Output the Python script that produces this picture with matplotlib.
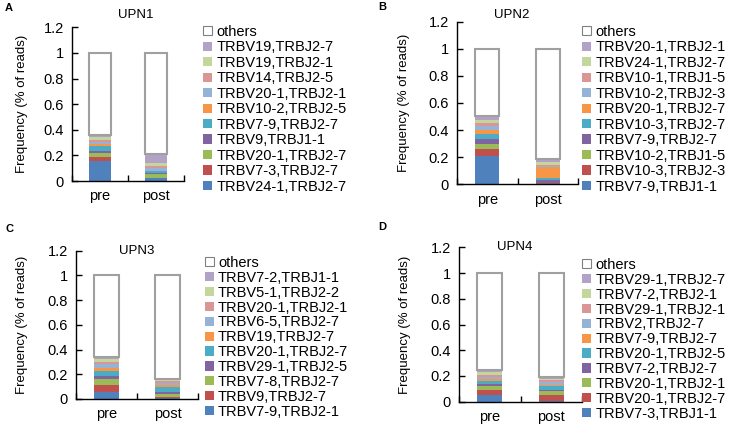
import numpy as np
import matplotlib.pyplot as plt
from matplotlib.patches import Patch

plt.rcParams['font.family'] = ['Liberation Sans', 'DejaVu Sans']

# Data: clonotype frequencies, listed from the bottom of the stack upwards
samples = ['pre', 'post']
seg_colors = ['#4F81BD', '#C0504D', '#9BBB59', '#8064A2', '#4BACC6',
              '#F79646', '#95B3D7', '#D99694', '#C3D69B', '#B3A2C7']

upn1_labels = ['TRBV24-1,TRBJ2-7', 'TRBV7-3,TRBJ2-7', 'TRBV20-1,TRBJ2-7', 'TRBV9,TRBJ1-1',
               'TRBV7-9,TRBJ2-7', 'TRBV10-2,TRBJ2-5', 'TRBV20-1,TRBJ2-1', 'TRBV14,TRBJ2-5',
               'TRBV19,TRBJ2-1', 'TRBV19,TRBJ2-7']
upn1_pre = [0.16, 0.025, 0.03, 0.02, 0.035, 0.015, 0.02, 0.015, 0.02, 0.02]
upn1_post = [0.02, 0.005, 0.03, 0.01, 0.01, 0.005, 0.02, 0.02, 0.02, 0.07]

upn2_labels = ['TRBV7-9,TRBJ1-1', 'TRBV10-3,TRBJ2-3', 'TRBV10-2,TRBJ1-5', 'TRBV7-9,TRBJ2-7',
               'TRBV10-3,TRBJ2-7', 'TRBV20-1,TRBJ2-7', 'TRBV10-2,TRBJ2-3', 'TRBV10-1,TRBJ1-5',
               'TRBV24-1,TRBJ2-7', 'TRBV20-1,TRBJ2-1']
upn2_pre = [0.21, 0.05, 0.034, 0.044, 0.034, 0.028, 0.03, 0.02, 0.028, 0.026]
upn2_post = [0.01, 0.005, 0.005, 0.015, 0.01, 0.08, 0.01, 0.01, 0.02, 0.02]

upn3_labels = ['TRBV7-9,TRBJ2-1', 'TRBV9,TRBJ2-7', 'TRBV7-8,TRBJ2-7', 'TRBV29-1,TRBJ2-5',
               'TRBV20-1,TRBJ2-7', 'TRBV19,TRBJ2-7', 'TRBV6-5,TRBJ2-7', 'TRBV20-1,TRBJ2-1',
               'TRBV5-1,TRBJ2-2', 'TRBV7-2,TRBJ1-1']
upn3_pre = [0.06, 0.05, 0.05, 0.03, 0.04, 0.02, 0.03, 0.02, 0.02, 0.02]
upn3_post = [0.01, 0.01, 0.02, 0.015, 0.04, 0.02, 0.015, 0.015, 0.005, 0.01]

upn4_labels = ['TRBV7-3,TRBJ1-1', 'TRBV20-1,TRBJ2-7', 'TRBV20-1,TRBJ2-1', 'TRBV7-2,TRBJ2-7',
               'TRBV20-1,TRBJ2-5', 'TRBV7-9,TRBJ2-7', 'TRBV2,TRBJ2-7', 'TRBV29-1,TRBJ2-1',
               'TRBV7-2,TRBJ2-1', 'TRBV29-1,TRBJ2-7']
upn4_pre = [0.05, 0.04, 0.03, 0.02, 0.02, 0.015, 0.015, 0.02, 0.02, 0.02]
upn4_post = [0.005, 0.045, 0.03, 0.01, 0.03, 0.01, 0.02, 0.015, 0.01, 0.015]

panels = [
    ('A', 'UPN1', upn1_labels, upn1_pre, upn1_post),
    ('B', 'UPN2', upn2_labels, upn2_pre, upn2_post),
    ('C', 'UPN3', upn3_labels, upn3_pre, upn3_post),
    ('D', 'UPN4', upn4_labels, upn4_pre, upn4_post),
]

W, H = 737, 428
fig = plt.figure(figsize=(W / 100, H / 100), dpi=100)

# layout in pixels: axes (left, right, top, bottom), legend (left, top), title (x frac, y frac), letter (x, y)
layout = [
    dict(ax=(72, 184, 27.3, 181), leg=(203, 25), spacing=0.1, title=(0.57, 1.08), letter=(5, 8)),
    dict(ax=(457, 578, 21.7, 184.3), leg=(582, 25), spacing=0.1, title=(0.45, 1.04), letter=(378, 7)),
    dict(ax=(76, 198, 250.7, 399), leg=(205, 256), spacing=0.06, title=(0.5, 1.0), letter=(5, 229)),
    dict(ax=(459, 582, 247.3, 401.7), leg=(582, 258), spacing=0.06, title=(0.45, 1.0), letter=(378, 227)),
]

for (letter, title, labels, pre, post), lay in zip(panels, layout):
    l, r, t, b = lay['ax']
    ax = fig.add_axes([l / W, 1 - b / H, (r - l) / W, (b - t) / H])
    x = np.arange(len(samples))
    vals = np.array([pre, post]).T  # shape (10, 2)
    bottom = np.zeros(len(samples))
    handles = []
    for v, c, lab in zip(vals, seg_colors, labels):
        ax.bar(x, v, 0.4, bottom=bottom, color=c, linewidth=0)
        bottom += v
        handles.append(Patch(facecolor=c, edgecolor='none', label=lab))
    others = 1 - bottom
    ax.bar(x, others, 0.4, bottom=bottom, color='white', edgecolor='#A0A0A0', linewidth=1.5)
    handles.append(Patch(facecolor='white', edgecolor='#808080', linewidth=0.8, label='others'))

    ax.set_xlim(-0.5, 1.5)
    ax.set_ylim(0, 1.2)
    ax.set_yticks(np.arange(0, 1.21, 0.2))
    ax.set_yticklabels(['0', '0.2', '0.4', '0.6', '0.8', '1', '1.2'], fontsize=10.5)
    ax.set_xticks(x)
    ax.set_xticklabels(samples, fontsize=10.5)
    ax.tick_params(axis='x', length=0, pad=6)
    ax.set_xticks([-0.5, 0.5, 1.5], minor=True)
    ax.tick_params(axis='x', which='minor', direction='in', length=4, width=1)
    ax.tick_params(axis='y', direction='in', length=4, width=1, pad=6)
    for s in ['top', 'right']:
        ax.spines[s].set_visible(False)
    ax.spines['left'].set_linewidth(1)
    ax.spines['bottom'].set_linewidth(1)
    ax.set_ylabel('Frequency (% of reads)', fontsize=9.5)
    ax.yaxis.set_label_coords(-0.39, 0.5)

    tx, ty = lay['title']
    ax.text(tx, ty, title, transform=ax.transAxes, ha='center', va='center', fontsize=9.5)
    lx, ly = lay['letter']
    fig.text(lx / W, 1 - ly / H, letter, ha='left', va='center', fontsize=8, fontweight='bold')

    gx, gy = lay['leg']
    fig.legend(handles=handles[::-1], loc='upper left', bbox_to_anchor=(gx / W, 1 - gy / H),
               bbox_transform=fig.transFigure, frameon=False, fontsize=10.5,
               handlelength=0.6, handleheight=0.6, handletextpad=0.3,
               labelspacing=lay['spacing'], borderpad=0, borderaxespad=0)

fig.savefig('out.png', dpi=100)
